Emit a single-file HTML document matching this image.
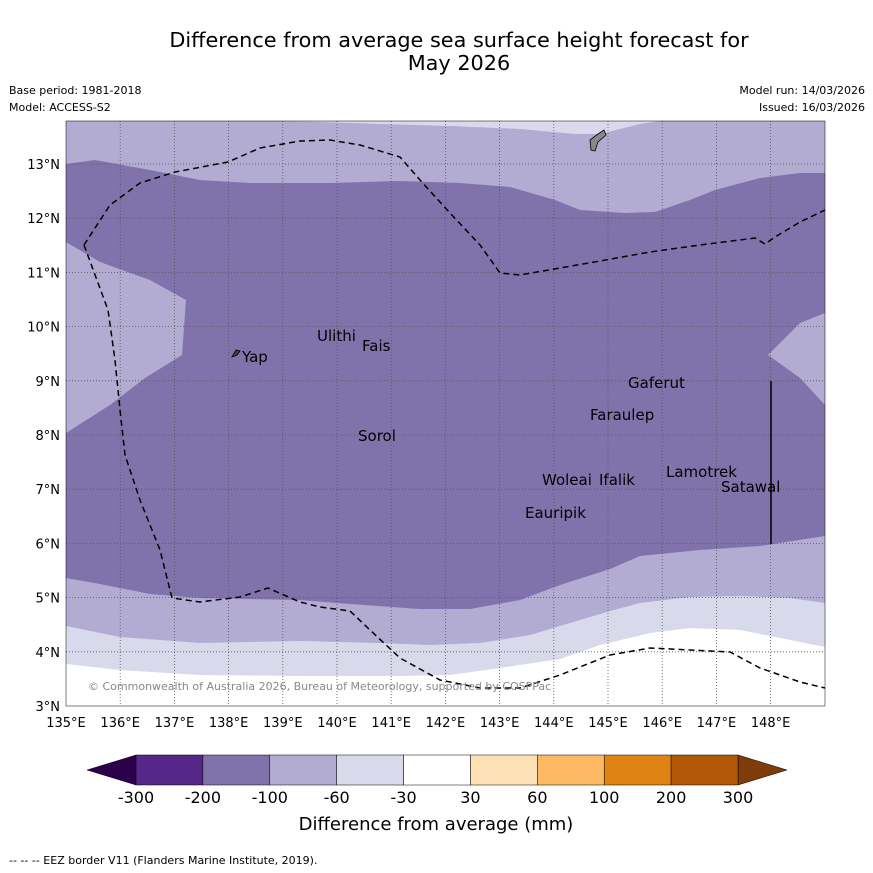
<!DOCTYPE html>
<html><head><meta charset="utf-8"><style>
body{margin:0;background:#fff;font-family:"DejaVu Sans",sans-serif}
svg{display:block;font-family:"DejaVu Sans",sans-serif}
</style></head><body>
<svg id="s" width="873" height="873" xmlns="http://www.w3.org/2000/svg">
<text x="459" y="47" font-size="20.8" text-anchor="middle">Difference from average sea surface height forecast for</text>
<text x="459" y="70" font-size="20.8" text-anchor="middle">May 2026</text>
<text x="9" y="94" font-size="11">Base period: 1981-2018</text>
<text x="9" y="111" font-size="11">Model: ACCESS-S2</text>
<text x="865" y="94" font-size="11" text-anchor="end">Model run: 14/03/2026</text>
<text x="865" y="111" font-size="11" text-anchor="end">Issued: 16/03/2026</text>
<defs><clipPath id="mc"><rect x="66" y="121" width="759" height="585"/></clipPath></defs>
<g clip-path="url(#mc)">
<rect x="66" y="121" width="759" height="585" fill="#8073ac"/>
<polygon fill="#b2abd2" points="66,121 825,121 825,173 800,173 760,178 715,190 690,200 655,212 625,213 580,210 555,200 510,187 460,183 400,181 330,183 250,183 200,180 150,170 95,160 66,164"/>
<polygon fill="#d8daeb" points="273,121 660,121 640,124 600,134 575,134 520,129 450,126 380,124 320,122"/>
<polygon fill="#b2abd2" points="66,242 100,262 150,280 186,300 182,355 145,378 110,405 66,433"/>
<polygon fill="#b2abd2" points="825,313 800,323 768,355 800,378 825,405"/>
<polygon fill="#b2abd2" points="66,578 100,584 150,594 200,598 300,600 350,604 420,609 470,609 520,600 560,585 610,569 640,556 700,550 760,546 825,536 825,706 66,706"/>
<polygon fill="#d8daeb" points="66,626 120,637 200,643 300,641 380,643 430,645 480,643 530,635 570,623 610,611 640,603 690,597 740,596 790,598 825,603 825,706 66,706"/>
<polygon fill="#ffffff" points="66,664 120,670 200,675 300,676 400,676 450,675 500,668 560,659 600,645 650,633 690,628 740,630 790,640 825,647 825,706 66,706"/>
<g id="grid" stroke="#555" stroke-width="0.8" stroke-dasharray="1,2" fill="none"></g>
<polyline fill="none" stroke="#000" stroke-width="1.5" stroke-dasharray="6,4" points="84,245 110,205 140,183 175,172 228,162 260,148 300,141 330,140 360,145 400,157 420,180 450,213 480,245 500,273 520,275 560,268 600,261 650,252 700,245 755,238 765,244 775,237 800,222 825,210"/>
<polyline fill="none" stroke="#000" stroke-width="1.5" stroke-dasharray="6,4" points="84,245 108,310 115,360 120,410 125,455 140,500 160,550 172,598 200,602 240,597 268,588 300,602 320,607 350,611 370,630 400,658 440,680 480,688 520,688 560,675 610,655 650,648 690,650 730,652 760,668 800,682 825,688"/>
<line x1="771" y1="381" x2="771" y2="544" stroke="#000" stroke-width="1.5"/>
<polygon fill="#888" stroke="#000" stroke-width="0.8" points="590,140 598,134 604,130 606,135 598,142 595,151 591,150"/>
<polygon fill="#444" stroke="#000" stroke-width="0.8" points="232,357 236,350 240,351 237,355"/>
<text x="88" y="690" font-size="11" fill="#888">© Commonwealth of Australia 2026, Bureau of Meteorology, supported by COSPPac</text>
</g>
<g font-size="15">
<text x="242" y="362">Yap</text><text x="317" y="341">Ulithi</text><text x="362" y="351">Fais</text>
<text x="628" y="388">Gaferut</text><text x="590" y="420">Faraulep</text><text x="358" y="441">Sorol</text>
<text x="542" y="485">Woleai</text><text x="599" y="485">Ifalik</text><text x="666" y="477">Lamotrek</text>
<text x="721" y="492">Satawal</text><text x="525" y="518">Eauripik</text>
</g>
<rect x="66" y="121" width="759" height="585" fill="none" stroke="#000" stroke-width="0.5"/>
<g id="ticks" font-size="13"></g>
<g id="cbar"></g>
<text x="436" y="830" font-size="18" text-anchor="middle">Difference from average (mm)</text>
<text x="9" y="864" font-size="11">--  --  -- EEZ border V11 (Flanders Marine Institute, 2019).</text>
</svg>
<script>
const lonTicks=[135,136,137,138,139,140,141,142,143,144,145,146,147,148];
const latTicks=[3,4,5,6,7,8,9,10,11,12,13];
const cbLabels=["-300","-200","-100","-60","-30","30","60","100","200","300"];
const cbColors=["#542788","#8073ac","#b2abd2","#d8daeb","#ffffff","#fee0b6","#fdb863","#e08214","#b35806"];
const NS="http://www.w3.org/2000/svg";
const xs=l=>66+(l-135)*54.2, ys=l=>706-(l-3)*54.2;
const grid=document.getElementById('grid'),tk=document.getElementById('ticks'),cb=document.getElementById('cbar');
function mk(t,a,p){const e=document.createElementNS(NS,t);for(const k in a)e.setAttribute(k,a[k]);p.appendChild(e);return e;}
lonTicks.forEach(l=>{
 if(l>135){const g=mk('line',{x1:xs(l),x2:xs(l),y1:121,y2:706},grid);
 
 }
 const t=mk('text',{x:xs(l),y:727,'text-anchor':'middle'},tk);t.textContent=l+'°E';
 
 
});
latTicks.forEach(l=>{
 if(l>3){const g=mk('line',{x1:66,x2:825,y1:ys(l),y2:ys(l)},grid);
 
 }
 const t=mk('text',{x:60,y:ys(l)+5,'text-anchor':'end'},tk);t.textContent=l+'°N';
 
 
});
const c0=136,w=(738-136)/cbColors.length;
const lt=mk('polygon',{points:`87,770 ${c0},755 ${c0},785`,fill:'#2d004b',stroke:'#000','stroke-width':0.5},cb);


const rt=mk('polygon',{points:`787,770 738,755 738,785`,fill:'#7f3b08',stroke:'#000','stroke-width':0.5},cb);


cbColors.forEach((c,i)=>{const r=mk('rect',{x:c0+i*w,y:755,width:w,height:30,fill:c,stroke:'#000','stroke-width':0.5},cb);
 
 });
cbLabels.forEach((s,i)=>{const t=mk('text',{x:c0+i*w,y:803,'font-size':16,'text-anchor':'middle'},cb);t.textContent=s;
 
 });
</script>
</body></html>
